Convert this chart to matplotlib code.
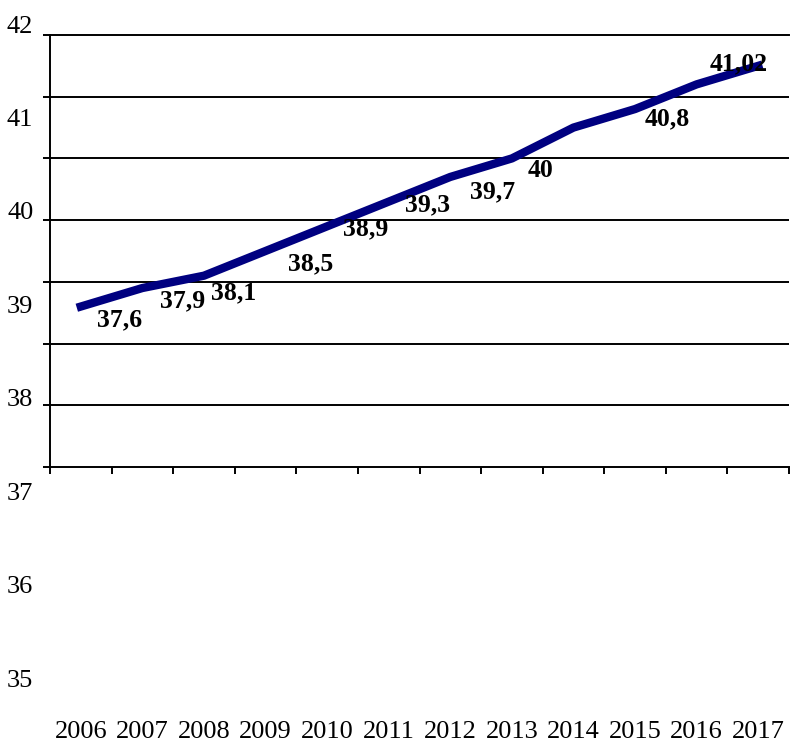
## line chart with data labels, 2006-2017
import matplotlib
matplotlib.use("Agg")
import matplotlib.pyplot as plt

## data
years = ["2006", "2007", "2008", "2009", "2010", "2011",
         "2012", "2013", "2014", "2015", "2016", "2017"]
values = [37.6, 37.9, 38.1, 38.5, 38.9, 39.3, 39.7, 40.0, 40.5, 40.8, 41.2, 41.5]
## text shown next to the points (two points have no label)
value_labels = ["37,6", "37,9", "38,1", "38,5", "38,9", "39,3",
                "39,7", "40", "", "40,8", "", "41,02"]
y_ticks = [35, 36, 37, 38, 39, 40, 41, 42]

## where each label sits relative to its point (pixels)
label_offsets = [(39, -13), (40, -13), (30, -17), (45, -13), (38, -2), (39, -3),
                 (42, -15), (29, -12), (0, 0), (32, -10), (0, 0), (-20, 2)]

W, H = 790, 747
fig = plt.figure(figsize=(W / 100, H / 100), dpi=100)
fig.patch.set_facecolor("white")

## main plot area with gridlines and the line
ax = fig.add_axes([50 / W, (H - 467) / H, 739 / W, 432 / H])
x = list(range(len(years)))
ax.set_xlim(-0.5, len(years) - 0.5)
ax.set_ylim(35, 42)
for v in y_ticks[1:-1]:
    ax.axhline(v, color="black", linewidth=1.4, zorder=1)
ax.plot(x, values, color="#000080", linewidth=6, solid_joinstyle="round", zorder=3)

for i, txt in enumerate(value_labels):
    if not txt:
        continue
    ax.annotate(txt, (x[i], values[i]), xytext=label_offsets[i],
                textcoords="offset pixels", ha="center", va="center",
                fontsize=18.5, fontweight="bold", family="Liberation Serif",
                zorder=4, annotation_clip=False)

ax.set_yticks(y_ticks)
ax.set_yticklabels([])
ax.set_xticks([i - 0.5 for i in range(len(years) + 1)])
ax.set_xticklabels([])
ax.tick_params(axis="both", direction="out", length=5, width=1.4, color="black")
for side in ["left", "bottom", "top"]:
    ax.spines[side].set_linewidth(1.4)
    ax.spines[side].set_color("black")
ax.spines["right"].set_visible(False)
ax.set_facecolor("white")

## separate axis carrying the tick labels (they are spaced differently)
ax_lab = fig.add_axes([50 / W, (H - 678) / H, 739 / W, 654 / H])
ax_lab.set_xlim(-0.5, len(years) - 0.5)
ax_lab.set_ylim(35, 42)
ax_lab.set_yticks(y_ticks)
ax_lab.set_yticklabels([str(v) for v in y_ticks], fontsize=19, family="Liberation Serif")
ax_lab.set_xticks(x)
ax_lab.set_xticklabels(years, fontsize=19, family="Liberation Serif")
ax_lab.tick_params(axis="y", length=0, pad=12)
ax_lab.tick_params(axis="x", length=0, pad=31)
for s in ax_lab.spines.values():
    s.set_visible(False)
ax_lab.patch.set_visible(False)

plt.savefig("out.png", dpi=100)
